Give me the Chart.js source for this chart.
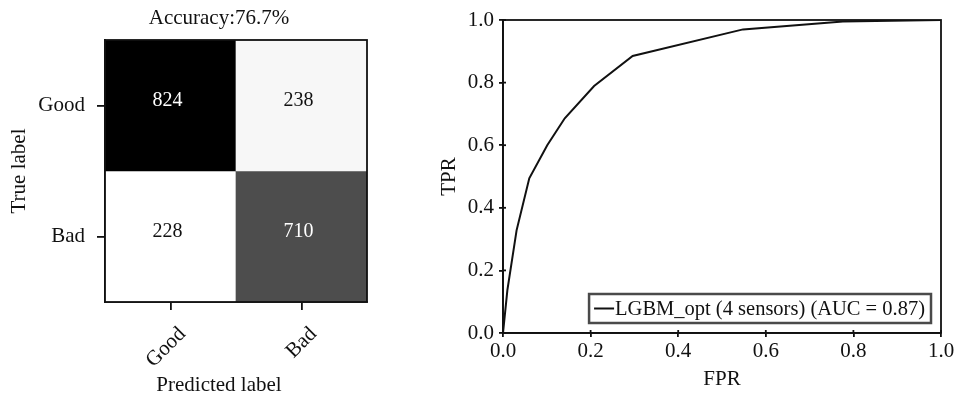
<!DOCTYPE html>
<html><head><meta charset="utf-8">
<script src="https://cdn.jsdelivr.net/npm/chart.js@4.4.0/dist/chart.umd.min.js"></script>
<style>
html,body{margin:0;padding:0;background:#fff;}
#wrap{position:relative;width:959px;height:401px;overflow:hidden;background:#fff;}
.box{position:absolute;top:0;}
</style></head><body>
<div id="wrap">
  <div class="box" style="left:0;width:420px;height:401px"><canvas id="cm" width="420" height="401"></canvas></div>
  <div class="box" style="left:420px;width:539px;height:401px"><canvas id="roc" width="539" height="401"></canvas></div>
</div>
<script>
// ---------- data ----------
const cmLabels = ['Good', 'Bad'];           // predicted / true classes
const cmRowGood = [824, 238];               // true Good: predicted Good, Bad
const cmRowBad = [228, 710];                // true Bad: predicted Good, Bad
const cmTitle = 'Accuracy:76.7%';
const cmXTitle = 'Predicted label';
const cmYTitle = 'True label';

const rocFPR = [0, 0.010, 0.031, 0.060, 0.101, 0.141, 0.208, 0.296, 0.548, 0.776, 1.0];
const rocTPR = [0, 0.137, 0.328, 0.494, 0.600, 0.686, 0.789, 0.885, 0.970, 0.995, 1.0];
const rocTicks = [0, 0.2, 0.4, 0.6, 0.8, 1.0];
const rocLabel = 'LGBM_opt (4 sensors) (AUC = 0.87)';

// ---------- styles ----------
const FONT = 'Liberation Serif, Times New Roman, serif';
const INK = '#111111';
const FS = 21;
const cmColors = [['#000000', '#f7f7f7'], ['#ffffff', '#4d4d4d']];
Chart.defaults.font.family = FONT;
Chart.defaults.color = INK;

const frame = {
  id: 'frame',
  afterDraw(chart) {
    const a = chart.chartArea, c = chart.ctx;
    c.save(); c.strokeStyle = INK; c.lineWidth = 1.8;
    c.strokeRect(a.left, a.top, a.right - a.left, a.bottom - a.top);
    c.restore();
  }
};

// ---------- confusion matrix ----------
const cmRows = [cmRowGood, cmRowBad];
const cmMin = Math.min(...cmRowGood, ...cmRowBad), cmMax = Math.max(...cmRowGood, ...cmRowBad);
const cmText = {
  id: 'cmText',
  afterDatasetsDraw(chart) {
    const c = chart.ctx;
    c.save();
    c.font = '20px ' + FONT; c.textAlign = 'center'; c.textBaseline = 'middle';
    cmRows.forEach((row, i) => {
      chart.getDatasetMeta(i).data.forEach((bar, j) => {
        const p = bar.getProps(['x', 'y', 'base'], true);
        c.fillStyle = row[j] > (cmMin + cmMax) / 2 ? '#ffffff' : INK;
        c.fillText(String(row[j]), p.x - 3, (p.y + p.base) / 2 - 5);
      });
    });
    const a = chart.chartArea, cx = (a.left + a.right) / 2 - 17;
    c.fillStyle = INK;
    c.font = FS + 'px ' + FONT;
    c.fillText(cmTitle, cx, 18);
    c.fillText(cmXTitle, cx, 385);
    c.restore();
  }
};

new Chart(document.getElementById('cm'), {
  type: 'bar',
  data: {
    labels: cmLabels,
    datasets: cmRows.map((row, i) => ({
      label: cmLabels[i],
      data: row.map(() => [i - 0.5, i + 0.5]),
      backgroundColor: cmColors[i],
      borderWidth: 0,
      barPercentage: 1,
      categoryPercentage: 1,
      grouped: false
    }))
  },
  options: {
    responsive: false, animation: false, devicePixelRatio: 1,
    layout: { padding: { top: 40, right: 53, left: 0, bottom: 0 } },
    plugins: { legend: { display: false }, tooltip: { enabled: false } },
    scales: {
      x: {
        type: 'category',
        afterFit: s => { s.height = 99; },
        grid: { offset: false, drawOnChartArea: false, tickLength: 8, color: INK, lineWidth: 1.8 },
        border: { display: true, color: INK, width: 1.8 },
        ticks: { font: { size: FS }, minRotation: 45, maxRotation: 45, padding: 12, labelOffset: 12, color: INK },
        title: { display: false }
      },
      y: {
        type: 'linear', min: -0.5, max: 1.5, reverse: true,
        afterFit: s => { s.width = 105; },
        afterBuildTicks: s => { s.ticks = cmLabels.map((_, i) => ({ value: i })); },
        grid: { drawOnChartArea: false, tickLength: 8, color: INK, lineWidth: 1.8 },
        border: { display: true, color: INK, width: 1.8 },
        ticks: { font: { size: FS }, padding: 12, color: INK, callback: v => cmLabels[v] },
        title: { display: true, text: cmYTitle, font: { size: FS }, padding: { top: 7, bottom: 0 }, color: INK }
      }
    }
  },
  plugins: [cmText, frame]
});

// ---------- ROC ----------
const rocExtras = {
  id: 'rocExtras',
  afterDraw(chart) {
    const c = chart.ctx, a = chart.chartArea;
    c.save();
    c.strokeStyle = INK; c.lineWidth = 1.8;
    const xs = chart.scales.x, ys = chart.scales.y;
    rocTicks.forEach(t => {
      const px = xs.getPixelForValue(t), py = ys.getPixelForValue(t);
      c.beginPath(); c.moveTo(px, a.bottom); c.lineTo(px, a.bottom - 3); c.stroke();
      c.beginPath(); c.moveTo(a.left, py); c.lineTo(a.left + 3, py); c.stroke();
    });
    // legend
    c.font = '20.5px ' + FONT; c.textBaseline = 'middle'; c.textAlign = 'left';
    const tw = c.measureText(rocLabel).width;
    const w = 5 + 21 + tw + 6, h = 29;
    const x0 = a.right - 10 - w, y0 = a.bottom - 10 - h;
    c.fillStyle = '#ffffff'; c.fillRect(x0, y0, w, h);
    c.strokeStyle = '#4a4a4a'; c.lineWidth = 2.5; c.strokeRect(x0, y0, w, h);
    c.strokeStyle = INK; c.lineWidth = 2;
    c.beginPath(); c.moveTo(x0 + 5, y0 + h / 2); c.lineTo(x0 + 25, y0 + h / 2); c.stroke();
    c.fillStyle = INK; c.fillText(rocLabel, x0 + 26, y0 + h / 2 + 1);
    c.restore();
  }
};

new Chart(document.getElementById('roc'), {
  type: 'line',
  data: {
    datasets: [{
      label: rocLabel,
      data: rocFPR.map((x, i) => ({ x: x, y: rocTPR[i] })),
      borderColor: INK, borderWidth: 2, pointRadius: 0, tension: 0, fill: false
    }]
  },
  options: {
    responsive: false, animation: false, devicePixelRatio: 1,
    layout: { padding: { top: 20, right: 18, left: 0, bottom: 0 } },
    plugins: { legend: { display: false }, tooltip: { enabled: false } },
    scales: {
      x: {
        type: 'linear', min: 0, max: 1,
        afterFit: s => { s.height = 68; },
        afterBuildTicks: s => { s.ticks = rocTicks.map(v => ({ value: v })); },
        grid: { drawOnChartArea: false, tickLength: 4, color: INK, lineWidth: 1.8 },
        border: { display: true, color: INK, width: 1.8 },
        ticks: { font: { size: FS }, padding: 2, color: INK, maxRotation: 0, callback: v => v.toFixed(1) },
        title: { display: true, text: 'FPR', font: { size: FS }, padding: { top: 0, bottom: 9 }, color: INK }
      },
      y: {
        type: 'linear', min: 0, max: 1,
        afterFit: s => { s.width = 83; },
        afterBuildTicks: s => { s.ticks = rocTicks.map(v => ({ value: v })); },
        grid: { drawOnChartArea: false, tickLength: 4, color: INK, lineWidth: 1.8 },
        border: { display: true, color: INK, width: 1.8 },
        ticks: { font: { size: FS }, padding: 5, color: INK, callback: v => v.toFixed(1) },
        title: { display: true, text: 'TPR', font: { size: FS }, padding: { top: 17, bottom: 0 }, color: INK }
      }
    }
  },
  plugins: [rocExtras, frame]
});
</script>
</body></html>
